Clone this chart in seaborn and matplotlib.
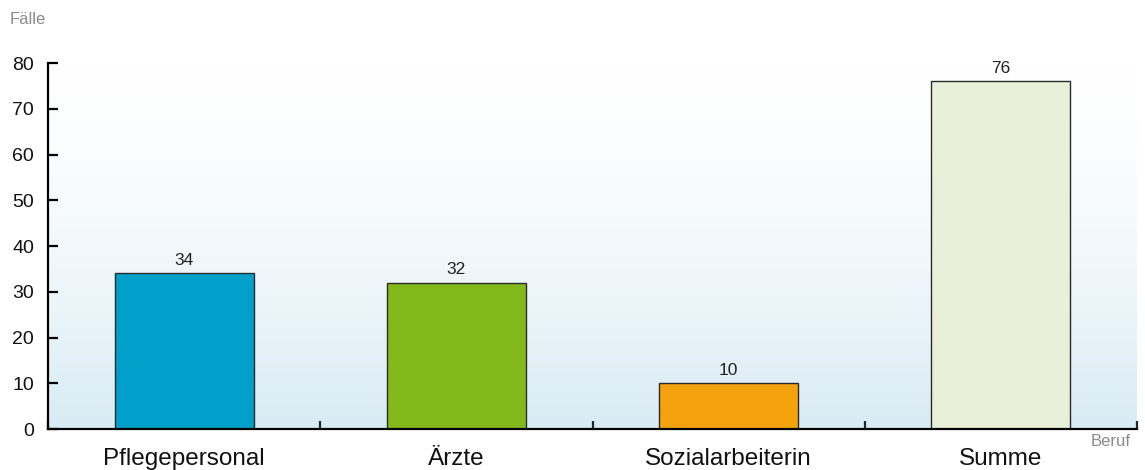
import matplotlib
matplotlib.use("Agg")
import matplotlib.pyplot as plt
import matplotlib.colors as mcolors
import seaborn as sns
import pandas as pd
import numpy as np

berufe = ["Pflegepersonal", "Ärzte", "Sozialarbeiterin", "Summe"]
faelle = [34, 32, 10, 76]
farben = ["#00a0cb", "#84b91b", "#f5a20f", "#e8f0d9"]
y_ticks = [0, 10, 20, 30, 40, 50, 60, 70, 80]


def main():
    sns.set_style("white")
    plt.rcParams["font.family"] = ["Liberation Sans", "DejaVu Sans"]

    df = pd.DataFrame({"Beruf": berufe, "Faelle": faelle})

    fig = plt.figure(figsize=(11.45, 4.7), dpi=100)
    ax = fig.add_axes([48 / 1145, 1 - 429 / 470, (1137 - 48) / 1145, (429 - 63) / 470])

    # background gradient, white on top, light blue at the bottom
    top = np.array(mcolors.to_rgb("#ffffff"))
    bot = np.array(mcolors.to_rgb("#d8ebf4"))
    t = np.linspace(0, 1, 256) ** 1.6
    grad = (top[None, :] * (1 - t[:, None]) + bot[None, :] * t[:, None])[:, None, :]
    ax.imshow(grad, extent=[-0.5, 3.5, 0, 80], aspect="auto", zorder=0,
              interpolation="bicubic")

    sns.barplot(data=df, x="Beruf", y="Faelle", hue="Beruf", palette=farben,
                legend=False, width=0.51, edgecolor="#2b2b2b", linewidth=1.0,
                saturation=1, ax=ax, zorder=2)

    for p, v in zip(ax.patches, faelle):
        ax.annotate(str(v), (p.get_x() + p.get_width() / 2, p.get_height()),
                    xytext=(0, 4), textcoords="offset points",
                    ha="center", va="bottom", fontsize=12.5, color="#222222")

    ax.set_xlim(-0.5, 3.5)
    ax.set_ylim(0, 80)
    ax.set_yticks(y_ticks)
    ax.set_xlabel("")
    ax.set_ylabel("")

    sns.despine(ax=ax)
    for s in ["left", "bottom"]:
        ax.spines[s].set_linewidth(1.6)
        ax.spines[s].set_color("black")
        ax.spines[s].set_zorder(5)

    ax.tick_params(axis="y", direction="in", length=7, width=1.6,
                   labelsize=14, pad=10, colors="black", left=True)
    ax.tick_params(axis="x", which="major", length=0, labelsize=17.5, pad=14,
                   colors="black")
    ax.set_xticks([-0.5, 0.5, 1.5, 2.5, 3.5], minor=True)
    ax.tick_params(axis="x", which="minor", direction="in", length=6,
                   width=1.6, bottom=True)
    for lab in ax.get_yticklabels():
        lab.set_color("#111111")
    for lab in ax.get_xticklabels():
        lab.set_color("#111111")

    fig.text(10 / 1145, 1 - 19 / 470, "Fälle", fontsize=12, color="#8a8a8a",
             ha="left", va="center")
    fig.text(1131 / 1145, 1 - 442 / 470, "Beruf", fontsize=12, color="#8a8a8a",
             ha="right", va="center")

    fig.savefig("out.png", dpi=100)


if __name__ == "__main__":
    main()
